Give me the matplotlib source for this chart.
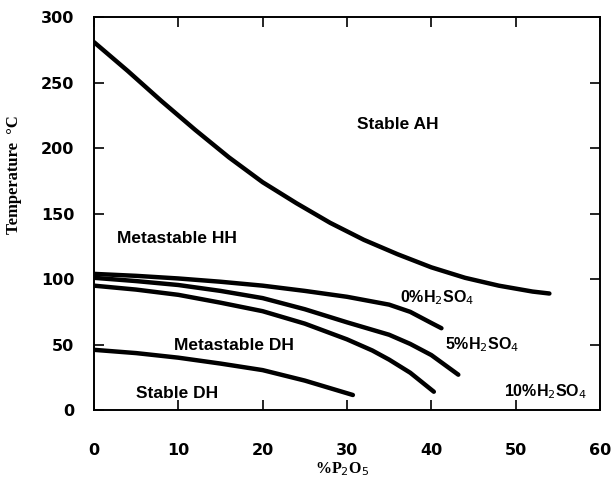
import numpy as np
import matplotlib.pyplot as plt

# phase boundaries, % P2O5 vs temperature (deg C)
p_ah = [0, 4, 8, 12, 16, 20, 24, 28, 32, 36, 40, 44, 48, 52, 54]
t_ah = [281, 259, 236, 214, 193, 174, 158, 143, 130, 119, 109, 101, 95, 90.5, 89]

p_h0 = [0, 5, 10, 15, 20, 25, 30, 35, 37.5, 40, 41.2]
t_h0 = [104, 102.5, 100.5, 98, 95, 91, 86.5, 80.5, 75, 66.5, 62.5]

p_h5 = [0, 5, 10, 15, 20, 25, 30, 35, 37.5, 40, 43.2]
t_h5 = [101, 98.5, 95.5, 91, 85.5, 77, 67, 57.5, 50.5, 42, 27]

p_h10 = [0, 5, 10, 15, 20, 25, 30, 33, 35, 37.5, 40.3]
t_h10 = [95, 92, 88, 82, 75.5, 66, 54, 45.5, 38.5, 28.5, 14]

p_dh = [0, 5, 10, 15, 20, 25, 30.7]
t_dh = [46, 43.5, 40, 35.5, 30.5, 22.5, 11.5]

curves = [(p_ah, t_ah), (p_h0, t_h0), (p_h5, t_h5), (p_h10, t_h10), (p_dh, t_dh)]

fig = plt.figure(figsize=(6.15, 4.87), dpi=100)
ax = fig.add_axes([0.1528, 0.158, 0.8228, 0.8066])

for p, t in curves:
    ax.plot(p, t, color='black', lw=3.2, solid_capstyle='round', solid_joinstyle='round')

lab = dict(family='Liberation Sans', fontweight='bold', fontsize=12.5, ha='center', va='center')
ax.text(36, 218, 'Stable AH', **lab)
ax.text(9.8, 131, 'Metastable HH', **lab)
ax.text(16.6, 49, 'Metastable DH', **lab)
ax.text(9.8, 13, 'Stable DH', **lab)
sub = dict(lab, fontsize=11.5)
ax.text(40.7, 85.5, r'0%H$_2$SO$_4$', **sub)
ax.text(46, 49.6, r'5%H$_2$SO$_4$', **sub)
ax.text(53.6, 13.8, r'10%H$_2$SO$_4$', **sub)

ax.set_xlim(0, 60)
ax.set_ylim(0, 300)
ax.set_xticks(np.arange(0, 61, 10))
ax.set_yticks(np.arange(0, 301, 50))
ax.tick_params(direction='in', top=True, right=True, length=7, width=1.2)
ax.tick_params(axis='x', pad=24)
ax.tick_params(axis='y', pad=14)
for lbl in ax.get_xticklabels() + ax.get_yticklabels():
    lbl.set_family('DejaVu Sans')
    lbl.set_fontweight('bold')
    lbl.set_fontsize(11.5)
for s in ax.spines.values():
    s.set_linewidth(1.4)

ax.set_xlabel(r'%P$_2$O$_5$', family='Liberation Serif', fontweight='bold', fontsize=11.5)
ax.set_ylabel('Temperature  °C', family='Liberation Serif', fontweight='bold', fontsize=12)
ax.xaxis.set_label_coords(0.49, -0.128)
ax.yaxis.set_label_coords(-0.142, 0.60)

fig.savefig('out.png', dpi=100)
